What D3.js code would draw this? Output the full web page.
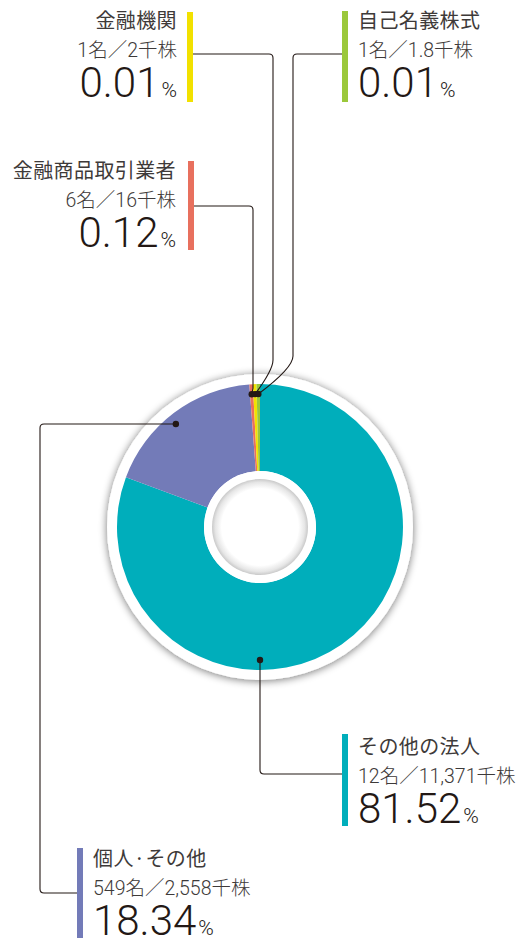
<!DOCTYPE html>
<html>
<head>
<meta charset="utf-8">
<script src="https://cdn.jsdelivr.net/npm/d3@7"></script>
<style>
  body { margin: 0; background: #fff; }
  svg { display: block; }
  .ttl { font-family: "Noto Sans CJK JP", sans-serif; font-size: 20px; letter-spacing: 0.4px; fill: #3e3a39; }
  .sub { font-family: Roboto, "Noto Sans CJK JP", sans-serif; font-weight: 300; font-size: 19.5px; fill: #3e3a39; }
  .big { font-family: Roboto, "Noto Sans", sans-serif; font-weight: 300; font-size: 42px; fill: #231815; }
  .pct { font-family: Roboto, "Noto Sans", sans-serif; font-weight: 300; font-size: 21px; fill: #231815; }
</style>
</head>
<body>
<svg width="523" height="938"></svg>
<script>
// shareholder categories, clockwise from 12 o'clock
const categories = ["その他の法人", "個人·その他", "金融商品取引業者", "金融機関", "自己名義株式"];
const holders = [12, 549, 6, 1, 1];
const sharesLabel = ["11,371", "2,558", "16", "2", "1.8"];
const percents = [81.52, 18.34, 0.12, 0.01, 0.01];
const colors = ["#00aebb", "#737bb8", "#e8705e", "#f2e100", "#9bc83b"];

const width = 523, height = 938;
const cx = 260, cy = 527;
const rOuter = 143, rInner = 56, rDot = 133;
const minShare = 0.4; // tiny slices are widened so they stay visible

const svg = d3.select("svg");
const defs = svg.append("defs");

const shadow = defs.append("filter").attr("id", "shadow")
  .attr("x", "-20%").attr("y", "-20%").attr("width", "140%").attr("height", "140%");
shadow.append("feGaussianBlur").attr("in", "SourceAlpha").attr("stdDeviation", 4);
shadow.append("feOffset").attr("dx", 0).attr("dy", 1).attr("result", "b");
shadow.append("feComponentTransfer").append("feFuncA").attr("type", "linear").attr("slope", 0.55);
const merge = shadow.append("feMerge");
merge.append("feMergeNode");
merge.append("feMergeNode").attr("in", "SourceGraphic");

const hole = defs.append("radialGradient").attr("id", "hole");
hole.append("stop").attr("offset", "0%").attr("stop-color", "#fff");
hole.append("stop").attr("offset", "80%").attr("stop-color", "#fff");
hole.append("stop").attr("offset", "93%").attr("stop-color", "#e6e6e6");
hole.append("stop").attr("offset", "100%").attr("stop-color", "#c9c9c9");

const data = categories.map((c, i) => ({
  name: c, holders: holders[i], shares: sharesLabel[i], pct: percents[i], color: colors[i]
}));

const pie = d3.pie().sort(null).value(d => Math.max(d.pct, minShare));
const arcs = pie(data);

const g = svg.append("g").attr("transform", `translate(${cx},${cy})`);

// white plate with soft shadow
g.append("circle").attr("r", 153).attr("fill", "#fff").attr("filter", "url(#shadow)");

const arc = d3.arc().innerRadius(rInner).outerRadius(rOuter);
g.selectAll("path.slice")
  .data(arcs)
  .join("path")
  .attr("class", "slice")
  .attr("d", arc)
  .attr("fill", d => d.data.color);

// inner white ring and hole
g.append("circle").attr("r", rInner).attr("fill", "#fff");
g.append("circle").attr("r", 48).attr("fill", "url(#hole)");

// dot positions
function onRing(a) { return [cx + rDot * Math.sin(a), cy - rDot * Math.cos(a)]; }
const mid = d => (d.startAngle + d.endAngle) / 2;
const dots = arcs.map(d => onRing(mid(d)));
// big slices: dots placed where the leader leaves the ring
dots[0] = [cx, cy + rDot];
{
  const y = 424, dy = y - cy;
  dots[1] = [cx - Math.sqrt(rDot * rDot - dy * dy), y];
}

const r = 4;
const leaders = [
  // その他の法人
  `M${dots[0][0]},${dots[0][1]} V${774 - r} Q${dots[0][0]},774 ${dots[0][0] + r},774 H342`,
  // 個人・その他
  `M${dots[1][0]},${dots[1][1]} H${40 + r} Q40,${dots[1][1]} 40,${dots[1][1] + r} V${893 - r} Q40,893 ${40 + r},893 H77`,
  // 金融商品取引業者
  `M194,206 H${253 - r} Q253,206 253,${206 + r} V${dots[2][1] - 6} L${dots[2][0]},${dots[2][1]}`,
  // 金融機関
  `M193,54 H${273 - r} Q273,54 273,${54 + r} V360 Q273,370 ${dots[3][0]},${dots[3][1]}`,
  // 自己名義株式
  `M342,54 H${293 + r} Q293,54 293,${54 + r} V356 Q293,368 ${dots[4][0]},${dots[4][1]}`
];

svg.append("g")
  .attr("fill", "none")
  .attr("stroke", "#231815")
  .attr("stroke-width", 1.1)
  .selectAll("path")
  .data(leaders)
  .join("path")
  .attr("d", d => d);

svg.append("g")
  .selectAll("circle")
  .data(dots)
  .join("circle")
  .attr("cx", d => d[0])
  .attr("cy", d => d[1])
  .attr("r", 3.2)
  .attr("fill", "#231815");

// label blocks: bar position and text alignment
const labelLayout = [
  { bar: [342, 734, 826], x: 358, anchor: "start", y: 754 },
  { bar: [77, 848, 940], x: 93, anchor: "start", y: 866 },
  { bar: [188, 161, 250], x: 176, anchor: "end", y: 178 },
  { bar: [187, 12, 102], x: 177, anchor: "end", y: 28 },
  { bar: [342, 11, 102], x: 358, anchor: "start", y: 28 }
];

data.forEach((d, i) => {
  const L = labelLayout[i];
  svg.append("rect")
    .attr("x", L.bar[0]).attr("y", L.bar[1])
    .attr("width", 6).attr("height", L.bar[2] - L.bar[1])
    .attr("fill", d.color);

  const t = svg.append("g").attr("text-anchor", L.anchor);
  t.append("text").attr("class", "ttl").attr("x", L.x).attr("y", L.y).text(d.name);
  t.append("text").attr("class", "sub").attr("x", L.x).attr("y", L.y + 29)
    .text(`${d.holders}名／${d.shares}千株`);
  const big = t.append("text").attr("x", L.x).attr("y", L.y + 69);
  big.append("tspan").attr("class", "big").text(d3.format(".2f")(d.pct));
  big.append("tspan").attr("class", "pct").attr("dx", 2).text("%");
});
</script>
</body>
</html>
